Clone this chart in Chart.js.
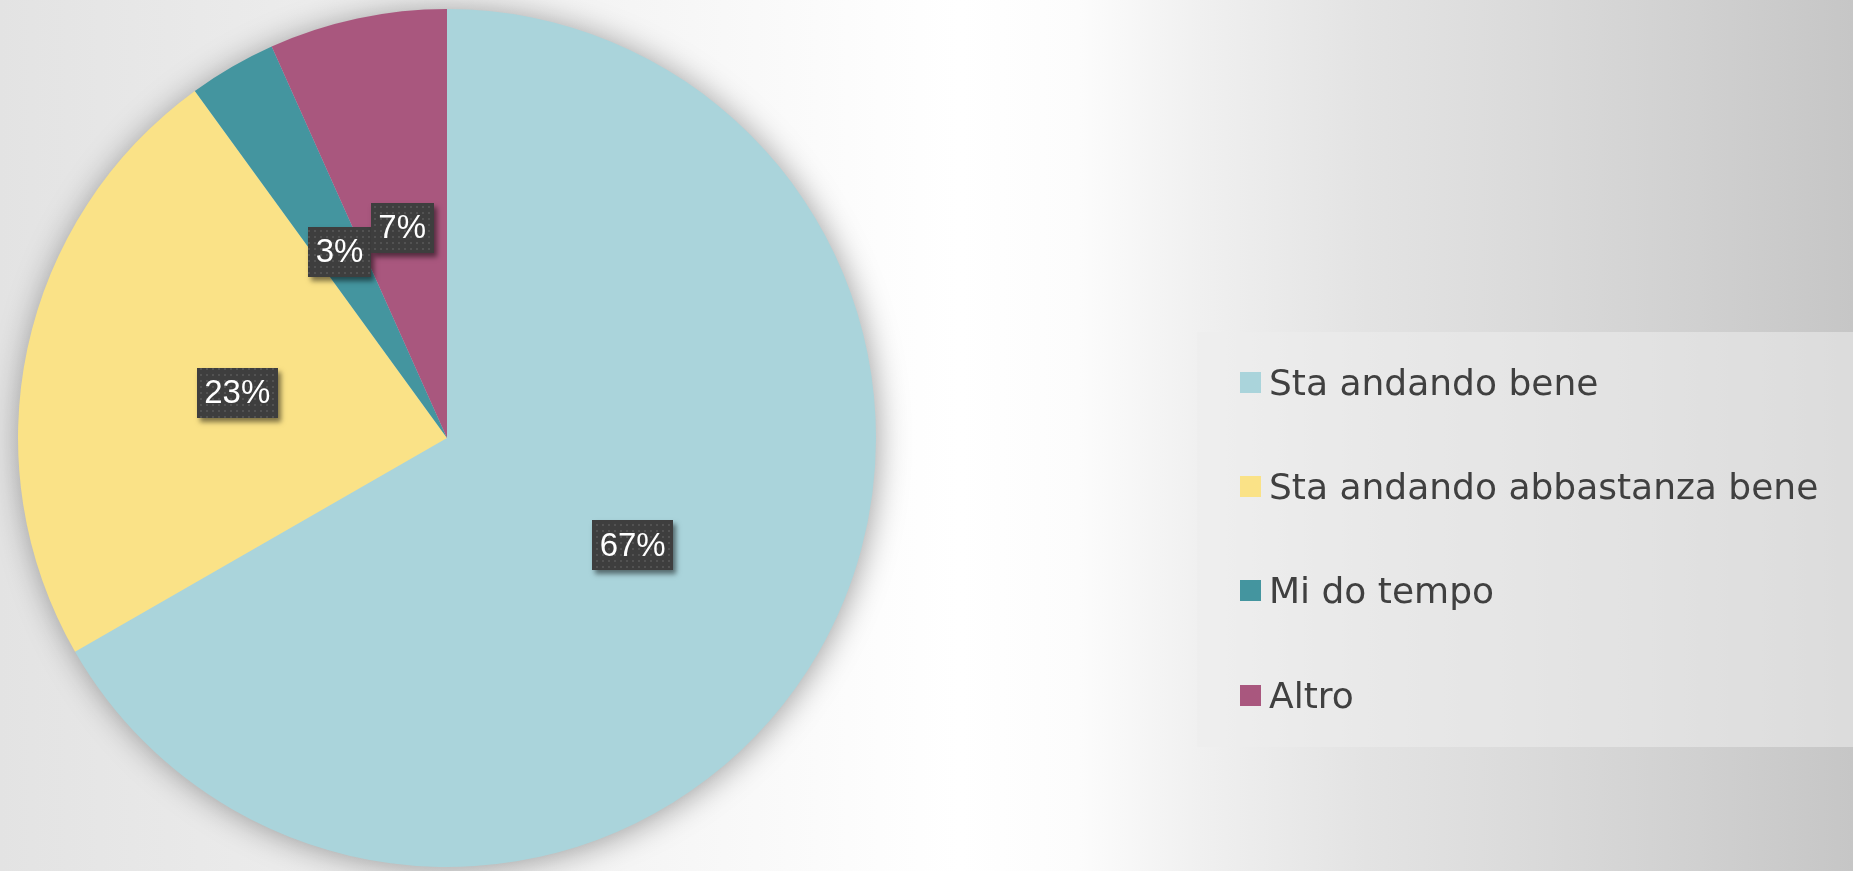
<!DOCTYPE html>
<html>
<head>
<meta charset="utf-8">
<script src="https://cdn.jsdelivr.net/npm/chart.js@4/dist/chart.umd.min.js"></script>
<style>
  html, body { margin: 0; padding: 0; width: 1853px; height: 871px; overflow: hidden; }
  #wrap { position: relative; width: 1853px; height: 871px; }
  #chart { position: absolute; left: 0; top: 0; }
  #legendBox {
    position: absolute; left: 1197px; top: 332px; width: 656px; height: 415px;
    background: rgba(237,237,237,0.56);
  }
  .item {
    position: absolute; left: 1240px; height: 40px;
    display: flex; align-items: center;
    font-family: "DejaVu Sans", "Liberation Sans", sans-serif; font-size: 36px;
    color: #404040; white-space: nowrap;
  }
  .sw { width: 21px; height: 21px; margin-right: 8px; flex: none; }
</style>
</head>
<body>
<div id="wrap">
  <canvas id="chart" width="1853" height="871"></canvas>
  <div id="legendBox"></div>
  <div id="legend"></div>
</div>
<script>
// ---- data ----
const categories = ['Sta andando bene', 'Sta andando abbastanza bene', 'Mi do tempo', 'Altro'];
const percentages = [66.7, 23.3, 3.3, 6.7];
const sliceColors = ['#AAD4DB', '#FAE287', '#44959F', '#A9577E'];

// ---- background ----
const bgPlugin = {
  id: 'bg',
  beforeDraw(chart) {
    const ctx = chart.ctx, W = chart.width, H = chart.height;
    const g = ctx.createLinearGradient(0, 0, W, 0);
    const stops = [[0, '#e3e3e3'], [200, '#e9e9e9'], [600, '#f4f4f4'], [880, '#fdfdfd'], [960, '#ffffff'],
                   [1080, '#fcfcfc'], [1200, '#f0f0f0'], [1366, '#e3e3e3'], [1500, '#dcdcdc'],
                   [1700, '#d0d0d0'], [1853, '#c6c6c6']];
    stops.forEach(s => g.addColorStop(s[0] / W, s[1]));
    ctx.save();
    ctx.fillStyle = g;
    ctx.fillRect(0, 0, W, H);
    ctx.restore();
  }
};

// ---- pie shadow ----
const shadowPlugin = {
  id: 'pieShadow',
  beforeDatasetsDraw(chart) {
    const arc = chart.getDatasetMeta(0).data[0];
    if (!arc) return;
    const p = arc.getProps(['x', 'y', 'outerRadius'], true);
    const ctx = chart.ctx;
    ctx.save();
    ctx.shadowColor = 'rgba(0,0,0,0.38)';
    ctx.shadowBlur = 32;
    ctx.shadowOffsetX = 2;
    ctx.shadowOffsetY = 2;
    ctx.beginPath();
    ctx.arc(p.x, p.y, p.outerRadius - 1, 0, Math.PI * 2);
    ctx.fillStyle = sliceColors[0];
    ctx.fill();
    ctx.restore();
  }
};

// ---- data labels ----
function makePattern(ctx) {
  const c = document.createElement('canvas');
  c.width = 6; c.height = 6;
  const x = c.getContext('2d');
  x.fillStyle = '#3e3e3e';
  x.fillRect(0, 0, 6, 6);
  x.fillStyle = '#525252';
  x.fillRect(2, 2, 2, 2);
  return ctx.createPattern(c, 'repeat');
}
const labelPlugin = {
  id: 'pctLabels',
  afterDatasetsDraw(chart) {
    const ctx = chart.ctx;
    const meta = chart.getDatasetMeta(0);
    const data = chart.data.datasets[0].data;
    const total = data.reduce((a, b) => a + b, 0);
    const pattern = makePattern(ctx);
    ctx.save();
    ctx.font = '33px "Liberation Sans", Arial, sans-serif';
    meta.data.forEach((arc, i) => {
      const p = arc.getProps(['x', 'y', 'startAngle', 'endAngle', 'outerRadius'], true);
      const mid = (p.startAngle + p.endAngle) / 2;
      const cx = p.x + Math.cos(mid) * p.outerRadius * 0.5;
      const cy = p.y + Math.sin(mid) * p.outerRadius * 0.5;
      const txt = Math.round(data[i] / total * 100) + '%';
      const tw = ctx.measureText(txt).width;
      const bw = Math.round(tw + 15), bh = 50;
      const bx = Math.round(cx - bw / 2), by = Math.round(cy - bh / 2);
      ctx.save();
      ctx.shadowColor = 'rgba(0,0,0,0.5)';
      ctx.shadowBlur = 5;
      ctx.shadowOffsetX = 3;
      ctx.shadowOffsetY = 4;
      ctx.fillStyle = '#3e3e3e';
      ctx.fillRect(bx, by, bw, bh);
      ctx.restore();
      ctx.fillStyle = pattern;
      ctx.fillRect(bx, by, bw, bh);
      ctx.fillStyle = '#ffffff';
      ctx.textAlign = 'center';
      ctx.textBaseline = 'middle';
      ctx.fillText(txt, cx, cy + 1);
    });
    ctx.restore();
  }
};

const chart = new Chart(document.getElementById('chart'), {
  type: 'pie',
  data: {
    labels: categories,
    datasets: [{
      data: percentages,
      backgroundColor: sliceColors,
      borderWidth: 0
    }]
  },
  options: {
    responsive: false,
    animation: false,
    layout: { padding: { left: 18, top: 9, bottom: 4, right: 977 } },
    plugins: {
      legend: { display: false },
      tooltip: { enabled: false }
    }
  },
  plugins: [bgPlugin, shadowPlugin, labelPlugin]
});

// ---- HTML legend built from the chart's own legend items ----
const items = Chart.overrides.pie.plugins.legend.labels.generateLabels(chart);
const legendTops = [362, 466, 570, 675];
const legendEl = document.getElementById('legend');
items.forEach((it, i) => {
  const d = document.createElement('div');
  d.className = 'item';
  d.style.top = legendTops[i] + 'px';
  const sw = document.createElement('span');
  sw.className = 'sw';
  sw.style.background = it.fillStyle;
  const t = document.createElement('span');
  t.textContent = it.text;
  d.appendChild(sw);
  d.appendChild(t);
  legendEl.appendChild(d);
});
</script>
</body>
</html>
